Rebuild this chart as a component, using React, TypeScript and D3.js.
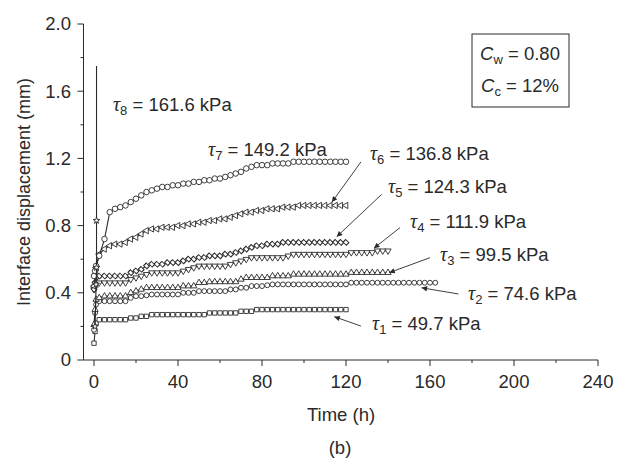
import React from 'react';
import * as d3 from 'd3';

// sample times (h)
const hours = [
  0, 0.5, 1, 2.5, 5, 7.5, 10, 12.5, 15, 17.5, 20, 22.5, 25, 27.5, 30, 32.5, 35, 37.5, 40,
  42.5, 45, 47.5, 50, 52.5, 55, 57.5, 60, 62.5, 65, 67.5, 70, 72.5, 75, 77.5, 80, 82.5, 85,
  87.5, 90, 92.5, 95, 97.5, 100, 102.5, 105, 107.5, 110, 112.5, 115, 117.5, 120, 122.5, 125,
  127.5, 130, 132.5, 135, 137.5, 140, 142.5, 145, 147.5, 150, 152.5, 155, 157.5, 160, 162.5,
];

// interface displacement (mm)
const tau1 = [
  0.10, 0.17, 0.22, 0.24, 0.24, 0.24, 0.24, 0.24, 0.24, 0.25, 0.25, 0.26, 0.26, 0.27, 0.27,
  0.27, 0.27, 0.27, 0.27, 0.27, 0.27, 0.27, 0.27, 0.27, 0.28, 0.28, 0.28, 0.28, 0.28, 0.28,
  0.29, 0.29, 0.29, 0.30, 0.30, 0.30, 0.30, 0.30, 0.30, 0.30, 0.30, 0.30, 0.30, 0.30, 0.30,
  0.30, 0.30, 0.30, 0.30, 0.30, 0.30,
];
const tau2 = [
  0.18, 0.28, 0.33, 0.35, 0.35, 0.35, 0.35, 0.35, 0.35, 0.37, 0.38, 0.38, 0.385, 0.39, 0.39,
  0.39, 0.39, 0.39, 0.39, 0.40, 0.40, 0.40, 0.41, 0.41, 0.41, 0.41, 0.41, 0.41, 0.42, 0.42,
  0.43, 0.43, 0.44, 0.44, 0.44, 0.445, 0.45, 0.45, 0.45, 0.45, 0.45, 0.45, 0.45, 0.45, 0.45,
  0.45, 0.45, 0.45, 0.45, 0.45, 0.45, 0.46, 0.46, 0.46, 0.46, 0.46, 0.46, 0.46, 0.46, 0.46,
  0.46, 0.46, 0.46, 0.46, 0.46, 0.46, 0.46, 0.46,
];
const tau3 = [
  0.21, 0.30, 0.36, 0.37, 0.38, 0.38, 0.38, 0.38, 0.38, 0.40, 0.41, 0.42, 0.43, 0.43, 0.43,
  0.43, 0.43, 0.43, 0.43, 0.44, 0.44, 0.44, 0.46, 0.46, 0.465, 0.465, 0.465, 0.465, 0.465,
  0.465, 0.48, 0.49, 0.49, 0.49, 0.49, 0.49, 0.50, 0.50, 0.50, 0.50, 0.51, 0.51, 0.51, 0.51,
  0.51, 0.51, 0.51, 0.51, 0.51, 0.51, 0.51, 0.52, 0.52, 0.52, 0.52, 0.52, 0.52, 0.52, 0.52,
];
const tau4 = [
  0.42, 0.44, 0.45, 0.46, 0.46, 0.46, 0.46, 0.46, 0.46, 0.48, 0.49, 0.50, 0.51, 0.52, 0.52,
  0.52, 0.52, 0.52, 0.52, 0.53, 0.54, 0.55, 0.56, 0.56, 0.56, 0.56, 0.56, 0.56, 0.57, 0.58,
  0.59, 0.60, 0.61, 0.61, 0.61, 0.61, 0.61, 0.61, 0.61, 0.62, 0.63, 0.63, 0.63, 0.63, 0.63,
  0.63, 0.63, 0.63, 0.63, 0.63, 0.63, 0.64, 0.64, 0.64, 0.64, 0.64, 0.65, 0.65, 0.65,
];
const tau5 = [
  0.42, 0.46, 0.49, 0.50, 0.50, 0.50, 0.50, 0.50, 0.50, 0.52, 0.53, 0.54, 0.56, 0.57, 0.57,
  0.57, 0.58, 0.58, 0.58, 0.59, 0.60, 0.60, 0.61, 0.61, 0.62, 0.62, 0.62, 0.63, 0.63, 0.64,
  0.65, 0.66, 0.67, 0.68, 0.68, 0.69, 0.69, 0.69, 0.70, 0.70, 0.70, 0.70, 0.70, 0.70, 0.70,
  0.70, 0.70, 0.70, 0.70, 0.70, 0.70,
];
const tau6 = [
  0.44, 0.50, 0.55, 0.63, 0.66, 0.68, 0.69, 0.69, 0.70, 0.72, 0.73, 0.75, 0.77, 0.78, 0.78,
  0.79, 0.79, 0.79, 0.80, 0.80, 0.81, 0.81, 0.82, 0.82, 0.83, 0.83, 0.84, 0.84, 0.85, 0.86,
  0.87, 0.88, 0.88, 0.89, 0.89, 0.90, 0.90, 0.90, 0.91, 0.91, 0.91, 0.92, 0.92, 0.92, 0.92,
  0.92, 0.92, 0.92, 0.92, 0.92, 0.92,
];
const tau7 = [
  0.50, 0.53, 0.56, 0.62, 0.72, 0.88, 0.90, 0.91, 0.92, 0.94, 0.96, 0.98, 1.00, 1.01, 1.02,
  1.03, 1.03, 1.04, 1.04, 1.05, 1.05, 1.06, 1.06, 1.07, 1.07, 1.08, 1.08, 1.09, 1.10, 1.11,
  1.12, 1.14, 1.15, 1.16, 1.16, 1.16, 1.17, 1.17, 1.17, 1.17, 1.18, 1.18, 1.18, 1.18, 1.18,
  1.18, 1.18, 1.18, 1.18, 1.18, 1.18,
];
// tau8 failed almost at once
const tau8Hours = [0.5, 1, 1.2, 1.2, 1.2];
const tau8 = [0.20, 0.45, 0.55, 0.83, 1.75];

const stressSub = ['1', '2', '3', '4', '5', '6', '7', '8'];
const stressKpa = ['49.7', '74.6', '99.5', '111.9', '124.3', '136.8', '149.2', '161.6'];
// label anchors and arrows, in data units [h, mm]
const labelAt = [
  [132.4, 0.179], [178.1, 0.357], [164.8, 0.589], [150.5, 0.786],
  [140, 0.994], [131.4, 1.19], [54.3, 1.214], [9.0, 1.482],
];
const arrowFrom = [
  [127.1, 0.202], [173.5, 0.393], [160, 0.609], [145.7, 0.788],
  [137.0, 0.986], [127.1, 1.179], null, null,
];
const arrowTo = [
  [114.4, 0.258], [156.0, 0.43], [140.6, 0.52], [133.3, 0.665],
  [115.6, 0.734], [113.3, 0.94], null, null,
];

const xTicks = [0, 40, 80, 120, 160, 200, 240];
const xMinor = [20, 60, 100, 140, 180, 220];
const yTicks = [0, 0.4, 0.8, 1.2, 1.6, 2.0];
const yMinor = [0.2, 0.6, 1.0, 1.4, 1.8];

const INK = '#2a2a2a';
const SANS = "'Liberation Sans', Arial, sans-serif";
const SERIF = "'Liberation Serif', 'Times New Roman', serif";
const FS = 18.5;

const symbols = [
  { type: d3.symbolSquare, size: 19, rot: 0, sx: 1 },
  { type: d3.symbolCircle, size: 19, rot: 0, sx: 1 },
  { type: d3.symbolTriangle, size: 17, rot: 0, sx: 1 },
  { type: d3.symbolTriangle, size: 17, rot: 180, sx: 1 },
  { type: d3.symbolSquare, size: 13, rot: 45, sx: 1.25 },
  { type: d3.symbolTriangle, size: 17, rot: -90, sx: 1 },
  { type: d3.symbolCircle, size: 24, rot: 0, sx: 1 },
  { type: d3.symbolStar, size: 14, rot: 0, sx: 1 },
];

export default function App() {
  const width = 627;
  const height = 461;

  const x = d3.scaleLinear().domain([-5, 240]).range([83.5, 598]);
  const y = d3.scaleLinear().domain([0, 2]).range([360, 24]);

  const series = [tau1, tau2, tau3, tau4, tau5, tau6, tau7].map((vals) =>
    vals.map((v, i) => [hours[i], v] as [number, number])
  );
  series.push(tau8.map((v, i) => [tau8Hours[i], v] as [number, number]));

  const line = d3.line<[number, number]>()
    .x(d => x(d[0]))
    .y(d => y(d[1]));

  return (
    <svg width={width} height={height} style={{ position: 'absolute', left: 0, top: 0, background: '#fff' }}
      fontFamily={SANS} fill={INK}>
      <defs>
        <marker id="arrowhead" viewBox="0 0 10 10" refX={10} refY={5} markerWidth={9} markerHeight={5.5}
          orient="auto" markerUnits="userSpaceOnUse">
          <path d="M0,0 L10,5 L0,10 z" fill={INK} />
        </marker>
      </defs>

      {/* axes */}
      <g stroke={INK} strokeWidth={1}>
        <line x1={x(-5)} x2={x(240)} y1={y(0)} y2={y(0)} />
        <line x1={x(-5)} x2={x(-5)} y1={y(0)} y2={y(2)} />
        {xTicks.map(t => <line key={'xt' + t} x1={x(t)} x2={x(t)} y1={y(0)} y2={y(0) + 6} />)}
        {xMinor.map(t => <line key={'xm' + t} x1={x(t)} x2={x(t)} y1={y(0)} y2={y(0) + 3} />)}
        {yTicks.map(t => <line key={'yt' + t} x1={x(-5) - 6} x2={x(-5)} y1={y(t)} y2={y(t)} />)}
        {yMinor.map(t => <line key={'ym' + t} x1={x(-5) - 3} x2={x(-5)} y1={y(t)} y2={y(t)} />)}
      </g>
      <g fontSize={FS}>
        {xTicks.map(t => (
          <text key={'xl' + t} x={x(t)} y={388} textAnchor="middle">{t}</text>
        ))}
        {yTicks.map(t => (
          <text key={'yl' + t} x={71} y={y(t)} dy="0.35em" textAnchor="end">{t === 0 ? '0' : t.toFixed(1)}</text>
        ))}
        <text x={341} y={421} textAnchor="middle">Time (h)</text>
        <text x={340} y={454} textAnchor="middle">(b)</text>
        <text transform={`translate(30,${y(1.0)}) rotate(-90)`} textAnchor="middle" fontSize={18}>Interface displacement (mm)</text>
      </g>

      {/* series */}
      {series.map((pts, si) => {
        const s = symbols[si];
        const sym = d3.symbol().type(s.type).size(s.size)();
        const marked = si === 7 ? pts.slice(0, pts.length - 1) : pts;
        return (
          <g key={'s' + si}>
            <path d={line(pts) ?? ''} fill="none" stroke={INK} strokeWidth={1.1} />
            {marked.map((d, i) => (
              <path key={i} d={sym ?? ''}
                transform={`translate(${x(d[0])},${y(d[1])}) rotate(${s.rot}) scale(${s.sx},1)`}
                fill="#fff" stroke={INK} strokeWidth={0.9} />
            ))}
          </g>
        );
      })}

      {/* stress labels */}
      {stressSub.map((sub, i) => {
        const [lt, lv] = labelAt[i];
        const from = arrowFrom[i];
        const to = arrowTo[i];
        return (
          <g key={'lab' + i}>
            {from && to && (
              <line x1={x(from[0])} y1={y(from[1])} x2={x(to[0])} y2={y(to[1])}
                stroke={INK} strokeWidth={0.9} markerEnd="url(#arrowhead)" />
            )}
            <text x={x(lt)} y={y(lv)} fontSize={FS}>
              <tspan fontFamily={SERIF} fontStyle="italic" fontSize={20}>τ</tspan>
              <tspan fontSize={13} dy={4}>{sub}</tspan>
              <tspan dy={-4}>{'\u00a0= ' + stressKpa[i] + ' kPa'}</tspan>
            </text>
          </g>
        );
      })}

      {/* parameter box */}
      <rect x={472} y={34} width={97} height={73} fill="none" stroke={INK} strokeWidth={1} />
      <text x={520} y={60} textAnchor="middle" fontSize={FS}>
        <tspan fontStyle="italic">C</tspan>
        <tspan fontSize={13} dy={4}>w</tspan>
        <tspan dy={-4}>{'\u00a0= 0.80'}</tspan>
      </text>
      <text x={520} y={92} textAnchor="middle" fontSize={FS}>
        <tspan fontStyle="italic">C</tspan>
        <tspan fontSize={13} dy={4}>c</tspan>
        <tspan dy={-4}>{'\u00a0= 12%'}</tspan>
      </text>
    </svg>
  );
}
